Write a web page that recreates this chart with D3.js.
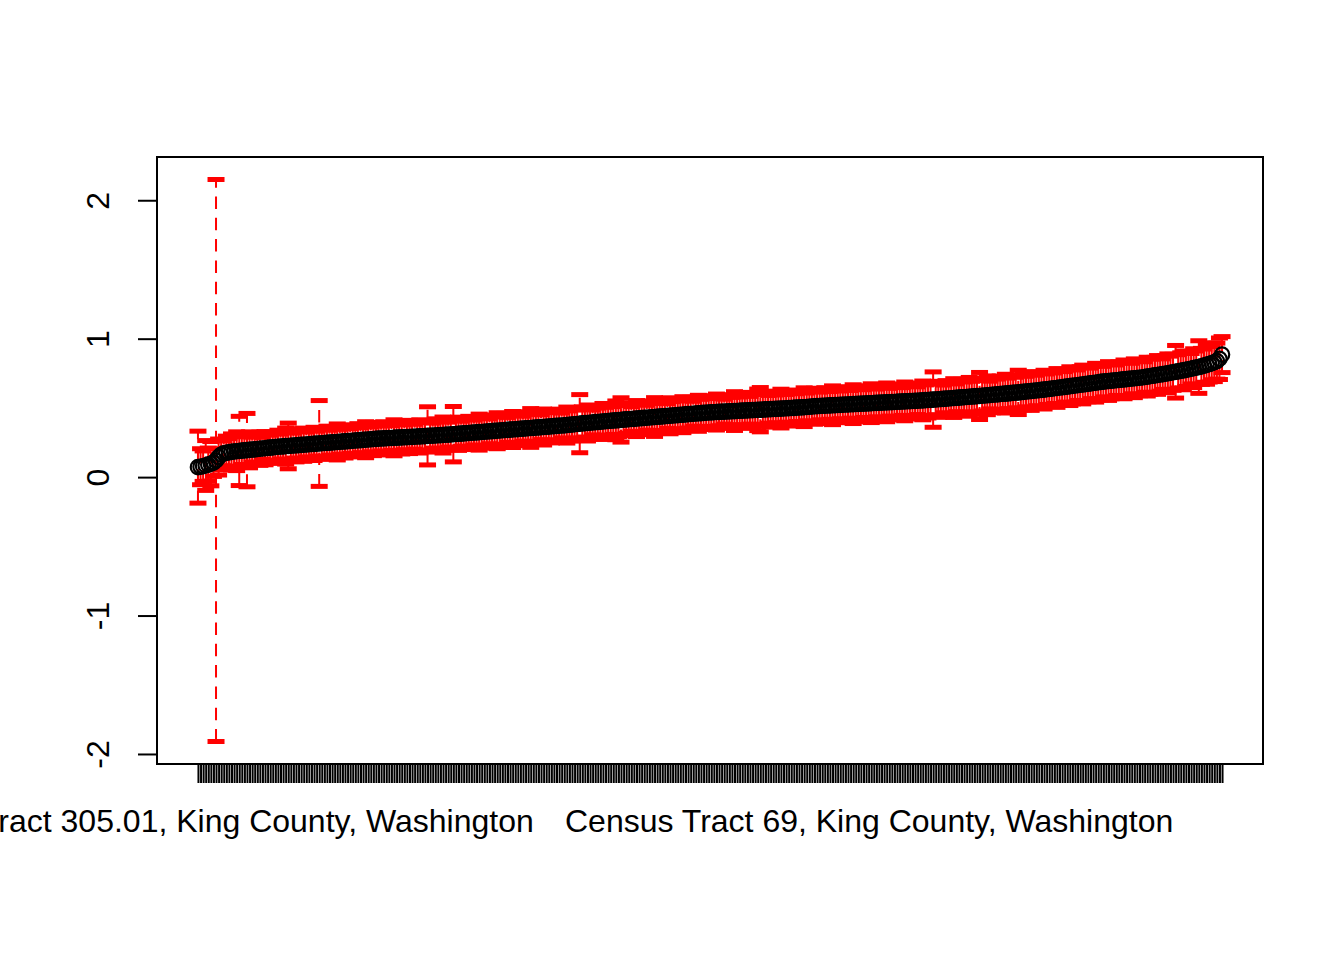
<!DOCTYPE html>
<html>
<head>
<meta charset="utf-8">
<script src="https://cdn.jsdelivr.net/npm/d3@7"></script>
<style>
  html, body { margin: 0; padding: 0; background: #fff; }
  svg { display: block; }
  text { font-family: "Liberation Sans", Arial, Helvetica, sans-serif; font-size: 32px; fill: #000; }
</style>
</head>
<body>
<svg id="chart" width="1344" height="960"></svg>
<script>
  // sorted tract estimates
  var estimates = [
    0.072, 0.075, 0.079, 0.084, 0.090, 0.097, 0.105, 0.120, 0.145, 0.162,
    0.172, 0.176, 0.179, 0.182, 0.185, 0.187, 0.189, 0.191, 0.193, 0.195,
    0.197, 0.199, 0.201, 0.203, 0.205, 0.207, 0.209, 0.211, 0.213, 0.215,
    0.217, 0.219, 0.221, 0.222, 0.224, 0.225, 0.227, 0.228, 0.230, 0.231,
    0.233, 0.234, 0.236, 0.237, 0.239, 0.240, 0.242, 0.243, 0.245, 0.246,
    0.248, 0.249, 0.251, 0.252, 0.254, 0.255, 0.257, 0.258, 0.260, 0.261,
    0.263, 0.264, 0.266, 0.267, 0.269, 0.270, 0.272, 0.273, 0.275, 0.276,
    0.278, 0.279, 0.280, 0.281, 0.282, 0.283, 0.284, 0.285, 0.286, 0.287,
    0.288, 0.289, 0.290, 0.291, 0.292, 0.293, 0.294, 0.295, 0.296, 0.298,
    0.299, 0.300, 0.301, 0.302, 0.303, 0.304, 0.306, 0.307, 0.308, 0.310,
    0.311, 0.313, 0.314, 0.316, 0.317, 0.319, 0.320, 0.322, 0.323, 0.325,
    0.326, 0.328, 0.329, 0.331, 0.332, 0.334, 0.335, 0.337, 0.338, 0.340,
    0.341, 0.343, 0.344, 0.346, 0.347, 0.349, 0.350, 0.352, 0.353, 0.355,
    0.356, 0.358, 0.359, 0.361, 0.362, 0.364, 0.365, 0.367, 0.368, 0.370,
    0.371, 0.373, 0.374, 0.376, 0.378, 0.380, 0.382, 0.384, 0.386, 0.388,
    0.390, 0.391, 0.393, 0.395, 0.397, 0.398, 0.400, 0.402, 0.404, 0.405,
    0.407, 0.409, 0.410, 0.412, 0.413, 0.415, 0.417, 0.418, 0.420, 0.421,
    0.423, 0.425, 0.426, 0.428, 0.429, 0.431, 0.432, 0.434, 0.436, 0.437,
    0.439, 0.440, 0.442, 0.443, 0.445, 0.447, 0.448, 0.450, 0.451, 0.453,
    0.455, 0.456, 0.458, 0.459, 0.461, 0.462, 0.464, 0.465, 0.467, 0.468,
    0.469, 0.470, 0.471, 0.472, 0.473, 0.474, 0.475, 0.476, 0.477, 0.478,
    0.479, 0.480, 0.481, 0.482, 0.483, 0.484, 0.485, 0.486, 0.487, 0.488,
    0.489, 0.490, 0.491, 0.492, 0.493, 0.494, 0.495, 0.496, 0.497, 0.498,
    0.499, 0.500, 0.502, 0.503, 0.504, 0.505, 0.507, 0.508, 0.510, 0.512,
    0.513, 0.514, 0.515, 0.516, 0.517, 0.518, 0.519, 0.520, 0.521, 0.522,
    0.523, 0.524, 0.525, 0.526, 0.527, 0.528, 0.529, 0.530, 0.531, 0.532,
    0.533, 0.534, 0.535, 0.536, 0.537, 0.538, 0.539, 0.540, 0.541, 0.542,
    0.543, 0.544, 0.545, 0.546, 0.547, 0.548, 0.549, 0.550, 0.551, 0.552,
    0.553, 0.554, 0.556, 0.557, 0.558, 0.560, 0.561, 0.562, 0.564, 0.565,
    0.567, 0.568, 0.570, 0.571, 0.573, 0.574, 0.576, 0.577, 0.579, 0.580,
    0.582, 0.583, 0.585, 0.586, 0.588, 0.590, 0.591, 0.593, 0.595, 0.597,
    0.598, 0.600, 0.602, 0.603, 0.605, 0.607, 0.609, 0.611, 0.612, 0.614,
    0.616, 0.618, 0.620, 0.622, 0.624, 0.626, 0.628, 0.630, 0.632, 0.635,
    0.637, 0.639, 0.642, 0.644, 0.647, 0.649, 0.652, 0.654, 0.657, 0.659,
    0.662, 0.664, 0.667, 0.669, 0.672, 0.674, 0.677, 0.680, 0.682, 0.685,
    0.688, 0.690, 0.692, 0.694, 0.696, 0.698, 0.700, 0.702, 0.704, 0.706,
    0.708, 0.710, 0.712, 0.714, 0.716, 0.718, 0.720, 0.723, 0.726, 0.729,
    0.732, 0.735, 0.738, 0.741, 0.744, 0.747, 0.750, 0.754, 0.757, 0.761,
    0.764, 0.768, 0.771, 0.775, 0.779, 0.783, 0.787, 0.791, 0.795, 0.800,
    0.805, 0.811, 0.817, 0.823, 0.830, 0.838, 0.855, 0.885
  ];

  // margins of error, same order
  var moes = [
    0.26, 0.13, 0.11, 0.18, 0.12, 0.16, 0.10, 2.03, 0.13, 0.11,
    0.09, 0.12, 0.10, 0.13, 0.11, 0.14, 0.25, 0.10, 0.12, 0.265,
    0.13, 0.09, 0.11, 0.10, 0.12, 0.08, 0.12, 0.10, 0.09, 0.11,
    0.10, 0.12, 0.09, 0.11, 0.13, 0.165, 0.10, 0.09, 0.12, 0.11,
    0.10, 0.12, 0.09, 0.11, 0.10, 0.12, 0.09, 0.31, 0.11, 0.10,
    0.12, 0.09, 0.11, 0.10, 0.13, 0.09, 0.10, 0.12, 0.11, 0.09,
    0.11, 0.10, 0.12, 0.09, 0.11, 0.13, 0.10, 0.09, 0.12, 0.10,
    0.11, 0.09, 0.12, 0.10, 0.11, 0.09, 0.13, 0.10, 0.11, 0.12,
    0.09, 0.10, 0.12, 0.11, 0.09, 0.10, 0.12, 0.11, 0.10, 0.21,
    0.11, 0.09, 0.12, 0.10, 0.11, 0.13, 0.10, 0.09, 0.11, 0.20,
    0.10, 0.12, 0.09, 0.11, 0.10, 0.12, 0.11, 0.09, 0.10, 0.13,
    0.11, 0.10, 0.12, 0.09, 0.11, 0.10, 0.13, 0.11, 0.10, 0.12,
    0.09, 0.11, 0.13, 0.10, 0.12, 0.11, 0.09, 0.12, 0.10, 0.14,
    0.11, 0.10, 0.12, 0.09, 0.13, 0.11, 0.10, 0.12, 0.11, 0.10,
    0.12, 0.09, 0.11, 0.13, 0.10, 0.12, 0.11, 0.10, 0.21, 0.12,
    0.10, 0.13, 0.11, 0.09, 0.12, 0.10, 0.11, 0.13, 0.10, 0.12,
    0.11, 0.10, 0.14, 0.12, 0.16, 0.11, 0.10, 0.12, 0.09, 0.11,
    0.13, 0.10, 0.12, 0.11, 0.09, 0.12, 0.10, 0.14, 0.11, 0.10,
    0.12, 0.11, 0.09, 0.13, 0.10, 0.12, 0.11, 0.10, 0.13, 0.11,
    0.10, 0.12, 0.09, 0.11, 0.13, 0.10, 0.12, 0.11, 0.10, 0.12,
    0.11, 0.13, 0.10, 0.12, 0.09, 0.11, 0.12, 0.10, 0.14, 0.11,
    0.10, 0.12, 0.11, 0.13, 0.10, 0.12, 0.11, 0.15, 0.16, 0.12,
    0.11, 0.10, 0.13, 0.12, 0.10, 0.11, 0.14, 0.12, 0.10, 0.11,
    0.13, 0.11, 0.10, 0.12, 0.11, 0.14, 0.10, 0.12, 0.11, 0.13,
    0.12, 0.10, 0.11, 0.13, 0.12, 0.10, 0.14, 0.11, 0.12, 0.10,
    0.13, 0.11, 0.12, 0.10, 0.14, 0.12, 0.11, 0.13, 0.10, 0.12,
    0.11, 0.14, 0.12, 0.10, 0.13, 0.11, 0.12, 0.14, 0.10, 0.12,
    0.13, 0.11, 0.12, 0.10, 0.14, 0.12, 0.11, 0.13, 0.12, 0.10,
    0.12, 0.14, 0.11, 0.13, 0.12, 0.20, 0.11, 0.13, 0.12, 0.10,
    0.13, 0.11, 0.12, 0.14, 0.10, 0.12, 0.13, 0.11, 0.12, 0.14,
    0.11, 0.13, 0.12, 0.17, 0.11, 0.12, 0.14, 0.10, 0.13, 0.12,
    0.11, 0.13, 0.12, 0.14, 0.11, 0.12, 0.13, 0.11, 0.16, 0.12,
    0.13, 0.11, 0.12, 0.14, 0.12, 0.11, 0.13, 0.12, 0.14, 0.11,
    0.12, 0.13, 0.11, 0.14, 0.12, 0.13, 0.11, 0.12, 0.14, 0.13,
    0.12, 0.11, 0.13, 0.14, 0.12, 0.13, 0.11, 0.12, 0.14, 0.12,
    0.13, 0.11, 0.12, 0.14, 0.13, 0.12, 0.11, 0.13, 0.12, 0.14,
    0.12, 0.13, 0.11, 0.14, 0.12, 0.13, 0.12, 0.11, 0.14, 0.13,
    0.12, 0.13, 0.14, 0.12, 0.11, 0.13, 0.14, 0.12, 0.13, 0.19,
    0.12, 0.13, 0.14, 0.12, 0.13, 0.11, 0.14, 0.12, 0.19, 0.13,
    0.12, 0.14, 0.13, 0.12, 0.14, 0.13, 0.15, 0.13
  ];

  // only the labels R had room to print (1-based position)
  var labelPos = [1, 261];
  var labelText = [
    "Census Tract 305.01, King County, Washington",
    "Census Tract 69, King County, Washington"
  ];
  var yTicks = [-2, -1, 0, 1, 2];

  var n = estimates.length;
  var box = {left: 157, right: 1263, top: 157, bottom: 764};
  var svg = d3.select('#chart');

  // R pads both ranges by 4%
  var xPad = 0.04 * (n - 1);
  var x = d3.scaleLinear()
    .domain([1 - xPad, n + xPad])
    .range([box.left, box.right]);

  var lo = d3.min(estimates, (d, i) => d - moes[i]);
  var hi = d3.max(estimates, (d, i) => d + moes[i]);
  var yPad = 0.04 * (hi - lo);
  var y = d3.scaleLinear()
    .domain([lo - yPad, hi + yPad])
    .range([box.bottom, box.top]);

  var rows = estimates.map((d, i) => ({pos: i + 1, est: d, moe: moes[i]}));

  // error bars: dashed stems, drawn bottom to top so the dash starts low
  var bars = svg.append('g').attr('class', 'bars');
  bars.selectAll('line.stem')
    .data(rows)
    .enter().append('line')
    .attr('class', 'stem')
    .attr('x1', d => x(d.pos))
    .attr('x2', d => x(d.pos))
    .attr('y1', d => y(d.est - d.moe))
    .attr('y2', d => y(d.est + d.moe))
    .attr('stroke', '#ff0000')
    .attr('stroke-width', 2)
    .attr('stroke-dasharray', '12.5,8.8');

  var caps = [];
  rows.forEach(d => { caps.push({pos: d.pos, v: d.est - d.moe}); caps.push({pos: d.pos, v: d.est + d.moe}); });
  bars.selectAll('line.cap')
    .data(caps)
    .enter().append('line')
    .attr('class', 'cap')
    .attr('x1', d => x(d.pos) - 8.5)
    .attr('x2', d => x(d.pos) + 8.5)
    .attr('y1', d => y(d.v))
    .attr('y2', d => y(d.v))
    .attr('stroke', '#ff0000')
    .attr('stroke-width', 5);

  // open circles on top
  svg.append('g').selectAll('circle')
    .data(rows)
    .enter().append('circle')
    .attr('cx', d => x(d.pos))
    .attr('cy', d => y(d.est))
    .attr('r', 7.2)
    .attr('fill', 'none')
    .attr('stroke', '#000')
    .attr('stroke-width', 2.2);

  // x axis: a tick for every tract
  var xAxis = d3.axisBottom(x)
    .tickValues(d3.range(1, n + 1))
    .tickSize(19)
    .tickSizeOuter(0)
    .tickFormat(d => {
      var k = labelPos.indexOf(d);
      return k < 0 ? '' : labelText[k];
    });
  var gx = svg.append('g')
    .attr('transform', `translate(0,${box.bottom})`)
    .call(xAxis);
  gx.selectAll('.tick line').attr('stroke', '#000').attr('stroke-width', 2);
  gx.selectAll('.tick text')
    .attr('y', 68).attr('dy', 0)
    .style('font-size', '32px').style('font-family', '"Liberation Sans", Arial, sans-serif');
  gx.select('.domain').remove();

  // y axis with rotated labels
  var yAxis = d3.axisLeft(y)
    .tickValues(yTicks)
    .tickSize(19)
    .tickSizeOuter(0)
    .tickFormat(d => String(d));
  var gy = svg.append('g')
    .attr('transform', `translate(${box.left},0)`)
    .call(yAxis);
  gy.selectAll('.tick line').attr('stroke', '#000').attr('stroke-width', 2);
  gy.selectAll('.tick text')
    .attr('x', 0).attr('dy', 0)
    .attr('text-anchor', 'middle')
    .attr('transform', 'translate(-48,0) rotate(-90)')
    .style('font-size', '32px').style('font-family', '"Liberation Sans", Arial, sans-serif');
  gy.select('.domain').remove();

  // plot frame
  svg.append('rect')
    .attr('x', box.left).attr('y', box.top)
    .attr('width', box.right - box.left)
    .attr('height', box.bottom - box.top)
    .attr('fill', 'none')
    .attr('stroke', '#000')
    .attr('stroke-width', 2);
</script>
</body>
</html>
